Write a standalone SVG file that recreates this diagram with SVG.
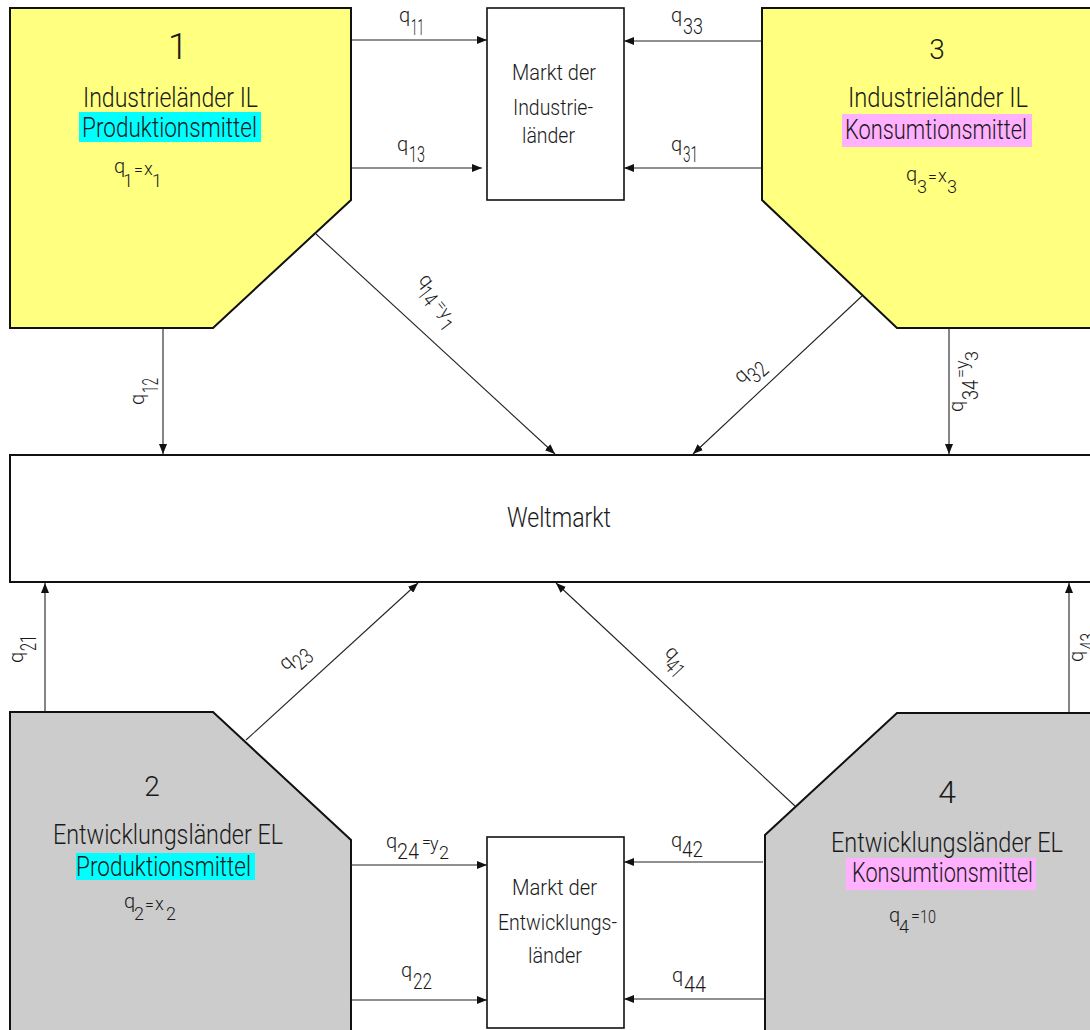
<svg xmlns="http://www.w3.org/2000/svg" width="1090" height="1030" viewBox="0 0 1090 1030">
<defs>
<marker id="arr" markerUnits="userSpaceOnUse" markerWidth="10" markerHeight="8" refX="10" refY="4" orient="auto">
<path d="M0,0 L10,4 L0,8 Z" fill="#111"/>
</marker>
<style>
text{font-family:Roboto,"DejaVu Sans",sans-serif;font-weight:300;fill:#1a1a1a}
.node{stroke:#111;stroke-width:2}
.il{fill:#ffff80}
.el{fill:#cccccc}
.box{fill:#fff;stroke:#111;stroke-width:1.6}
.big{font-size:27px}
.mk{font-size:22px}
.num{font-size:30px}
.q{font-size:20px}
.d{font-size:22px}
.s{font-size:18px}
.e{font-size:16px}
.con path{fill:none;stroke:#222;stroke-width:1.1;marker-end:url(#arr)}
</style>
</defs>
<rect width="1090" height="1030" fill="#fff"/>

<g id="node1">
<path class="node il" d="M10,8 H351 V200 L213,328 H10 Z"/>
<text class="num" x="178" y="59" text-anchor="middle" style="font-size:36px">1</text>
<text class="big" x="83" y="107" textLength="175" lengthAdjust="spacingAndGlyphs">Industrieländer IL</text>
<rect x="79" y="112" width="182" height="30" fill="#00ffff"/>
<text class="big" x="82" y="137" textLength="175" lengthAdjust="spacingAndGlyphs">Produktionsmittel</text>
<text class="q"><tspan x="114" y="173">q</tspan><tspan class="s" x="123" y="187">1</tspan><tspan class="e" x="134" y="175">=</tspan><tspan class="s" x="144" y="175">x</tspan><tspan class="s" x="152" y="187">1</tspan></text>
</g>

<g id="node3">
<path class="node il" d="M762,8 H1100 V328 H897 L762,200 Z"/>
<text class="num" x="937" y="59" text-anchor="middle" style="font-size:28px">3</text>
<text class="big" x="848" y="107" textLength="180" lengthAdjust="spacingAndGlyphs">Industrieländer IL</text>
<rect x="842" y="114" width="190" height="33" fill="#ffb0ff"/>
<text class="big" x="845" y="139" textLength="182" lengthAdjust="spacingAndGlyphs">Konsumtionsmittel</text>
<text class="q"><tspan x="906" y="181">q</tspan><tspan class="s" x="917" y="193">3</tspan><tspan class="e" x="928" y="182">=</tspan><tspan class="s" x="938" y="182">x</tspan><tspan class="s" x="947" y="193">3</tspan></text>
</g>

<g id="node2">
<path class="node el" d="M10,712 H213 L351,840 V1040 H10 Z"/>
<text class="num" x="152" y="796" text-anchor="middle" style="font-size:28px">2</text>
<text class="big" x="53" y="844" textLength="230" lengthAdjust="spacingAndGlyphs">Entwicklungsländer EL</text>
<rect x="76" y="853" width="179" height="27" fill="#00ffff"/>
<text class="big" x="76" y="876" textLength="175" lengthAdjust="spacingAndGlyphs">Produktionsmittel</text>
<text class="q"><tspan x="124" y="908">q</tspan><tspan class="s" x="134" y="920">2</tspan><tspan class="e" x="145" y="910">=</tspan><tspan class="s" x="155" y="910">x</tspan><tspan class="s" x="166" y="920">2</tspan></text>
</g>

<g id="node4">
<path class="node el" d="M897,713 H1100 V1040 H765 V835 Z"/>
<text class="num" x="947" y="803" text-anchor="middle" style="font-size:32px">4</text>
<text class="big" x="831" y="852" textLength="232" lengthAdjust="spacingAndGlyphs">Entwicklungsländer EL</text>
<rect x="846" y="858" width="190" height="32" fill="#ffb0ff"/>
<text class="big" x="852" y="882" textLength="181" lengthAdjust="spacingAndGlyphs">Konsumtionsmittel</text>
<text class="q"><tspan x="889" y="922">q</tspan><tspan class="s" x="899" y="933">4</tspan><tspan class="e" x="911" y="921">=</tspan><tspan class="s" x="920" y="923" textLength="16" lengthAdjust="spacingAndGlyphs">10</tspan></text>
</g>

<g id="markt-il">
<rect class="box" x="487" y="8" width="137" height="192"/>
<text class="mk" x="512" y="80" textLength="84" lengthAdjust="spacingAndGlyphs">Markt der</text>
<text class="mk" x="513" y="115" textLength="80" lengthAdjust="spacingAndGlyphs">Industrie-</text>
<text class="mk" x="522" y="143" textLength="53" lengthAdjust="spacingAndGlyphs">länder</text>
</g>

<g id="markt-el">
<rect class="box" x="487" y="837" width="137" height="191"/>
<text class="mk" x="512" y="895" textLength="85" lengthAdjust="spacingAndGlyphs">Markt der</text>
<text class="mk" x="498" y="930" textLength="119" lengthAdjust="spacingAndGlyphs">Entwicklungs-</text>
<text class="mk" x="528" y="963" textLength="54" lengthAdjust="spacingAndGlyphs">länder</text>
</g>

<g id="weltmarkt">
<rect x="10" y="455" width="1095" height="127" fill="#fff" stroke="#111" stroke-width="2"/>
<text class="big" x="507" y="527" textLength="104" lengthAdjust="spacingAndGlyphs">Weltmarkt</text>
</g>

<g id="connectors" class="con">
<path d="M351,40 H487"/>
<path d="M351,168 H482"/>
<path d="M762,41 H624"/>
<path d="M762,168 H624"/>
<path d="M163,328 V454"/>
<path d="M316,234 L555,454"/>
<path d="M862,296 L693,454"/>
<path d="M949,328 V454"/>
<path d="M45,712 V583"/>
<path d="M246,740 L418,583"/>
<path d="M795,806 L556,583"/>
<path d="M1069,712 V583"/>
<path d="M351,865 H487"/>
<path d="M351,1000 H487"/>
<path d="M763,862 H624"/>
<path d="M765,999 H624"/>
</g>

<g id="connector-labels">
<text class="q"><tspan x="399" y="22">q</tspan><tspan class="d" x="411" y="35" textLength="13" lengthAdjust="spacingAndGlyphs">11</tspan></text>
<text class="q"><tspan x="397" y="151">q</tspan><tspan class="d" x="409" y="162" textLength="16" lengthAdjust="spacingAndGlyphs">13</tspan></text>
<text class="q"><tspan x="671" y="22">q</tspan><tspan class="d" x="683" y="34" textLength="20" lengthAdjust="spacingAndGlyphs">33</tspan></text>
<text class="q"><tspan x="671" y="151">q</tspan><tspan class="d" x="683" y="162" textLength="15" lengthAdjust="spacingAndGlyphs">31</tspan></text>
<text class="q"><tspan x="386" y="848">q</tspan><tspan class="d" x="397" y="859" textLength="22" lengthAdjust="spacingAndGlyphs">24</tspan><tspan class="e" x="422" y="847">=</tspan><tspan class="s" x="430" y="850">y</tspan><tspan class="s" x="439" y="859">2</tspan></text>
<text class="q"><tspan x="401" y="977">q</tspan><tspan class="d" x="413" y="989" textLength="19" lengthAdjust="spacingAndGlyphs">22</tspan></text>
<text class="q"><tspan x="671" y="847">q</tspan><tspan class="d" x="682" y="857" textLength="21" lengthAdjust="spacingAndGlyphs">42</tspan></text>
<text class="q"><tspan x="672" y="982">q</tspan><tspan class="d" x="684" y="992" textLength="22" lengthAdjust="spacingAndGlyphs">44</tspan></text>
<text class="q" transform="translate(144,405) rotate(-90)"><tspan x="0" y="0">q</tspan><tspan class="d" x="12" y="14" textLength="15" lengthAdjust="spacingAndGlyphs">12</tspan></text>
<text class="q" transform="translate(963,412) rotate(-90)"><tspan x="0" y="0">q</tspan><tspan class="d" x="12" y="15" textLength="20" lengthAdjust="spacingAndGlyphs">34</tspan><tspan class="e" x="34" y="3">=</tspan><tspan class="s" x="43" y="5">y</tspan><tspan class="s" x="51" y="15">3</tspan></text>
<text class="q" transform="translate(23,663) rotate(-90)"><tspan x="0" y="0">q</tspan><tspan class="d" x="12" y="13" textLength="16" lengthAdjust="spacingAndGlyphs">21</tspan></text>
<text class="q" transform="translate(1083,662) rotate(-90)"><tspan x="0" y="0">q</tspan><tspan class="d" x="12" y="13" textLength="17" lengthAdjust="spacingAndGlyphs">43</tspan></text>
<text class="q" transform="translate(418,280) rotate(52)"><tspan x="0" y="0">q</tspan><tspan class="d" x="10" y="10" textLength="17" lengthAdjust="spacingAndGlyphs">14</tspan><tspan class="e" x="30" y="2">=</tspan><tspan class="s" x="39" y="4">y</tspan><tspan class="s" x="48" y="12">1</tspan></text>
<text class="q" transform="translate(741,384) rotate(-42)"><tspan x="0" y="0">q</tspan><tspan class="d" x="11" y="10" textLength="19" lengthAdjust="spacingAndGlyphs">32</tspan></text>
<text class="q" transform="translate(286,671) rotate(-42)"><tspan x="0" y="0">q</tspan><tspan class="d" x="11" y="10" textLength="19" lengthAdjust="spacingAndGlyphs">23</tspan></text>
<text class="q" transform="translate(664,653) rotate(47)"><tspan x="0" y="0">q</tspan><tspan class="d" x="10" y="10" textLength="17" lengthAdjust="spacingAndGlyphs">41</tspan></text>
</g>
</svg>
